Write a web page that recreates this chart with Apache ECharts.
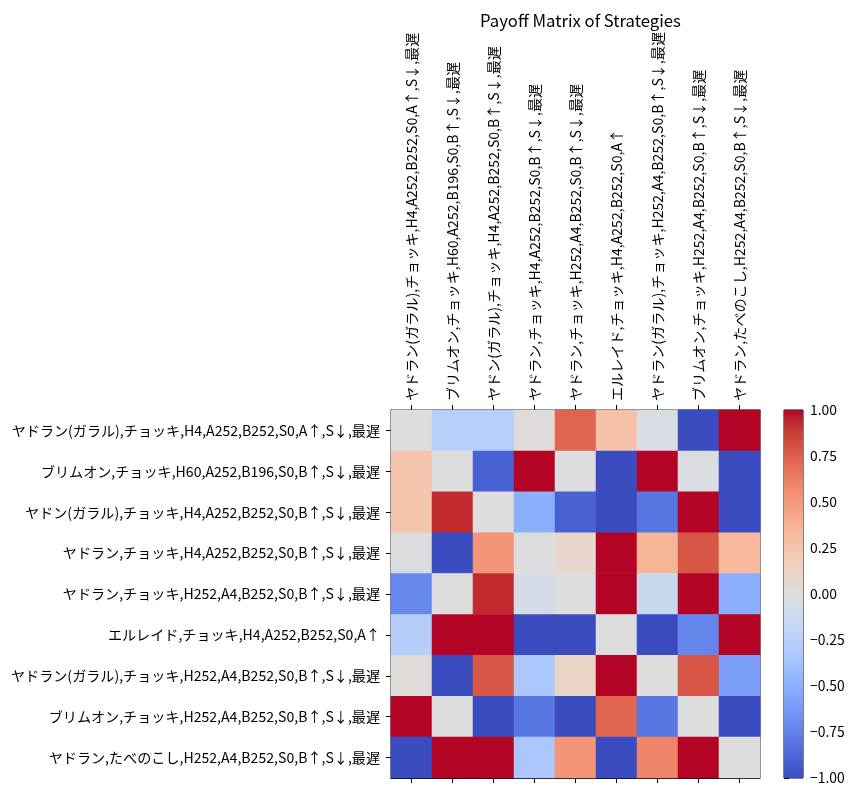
<!DOCTYPE html>
<html>
<head>
<meta charset="utf-8">
<script src="https://cdn.jsdelivr.net/npm/echarts@6/dist/echarts.min.js"></script>
<style>
html,body{margin:0;padding:0;background:#fff;}
#chart{width:861px;height:798px;}
</style>
</head>
<body>
<div id="chart"></div>
<script>
const strategies = [
  'ヤドラン(ガラル),チョッキ,H4,A252,B252,S0,A↑,S↓,最遅',
  'ブリムオン,チョッキ,H60,A252,B196,S0,B↑,S↓,最遅',
  'ヤドン(ガラル),チョッキ,H4,A252,B252,S0,B↑,S↓,最遅',
  'ヤドラン,チョッキ,H4,A252,B252,S0,B↑,S↓,最遅',
  'ヤドラン,チョッキ,H252,A4,B252,S0,B↑,S↓,最遅',
  'エルレイド,チョッキ,H4,A252,B252,S0,A↑',
  'ヤドラン(ガラル),チョッキ,H252,A4,B252,S0,B↑,S↓,最遅',
  'ブリムオン,チョッキ,H252,A4,B252,S0,B↑,S↓,最遅',
  'ヤドラン,たべのこし,H252,A4,B252,S0,B↑,S↓,最遅'
];

const payoffRows = [
  [0, -0.25, -0.25, 0.02, 0.73, 0.27, -0.04, -1, 1],
  [0.25, 0, -0.9, 1, 0, -1, 1, -0.03, -1],
  [0.25, 0.93, 0, -0.5, -0.9, -1, -0.81, 1, -1],
  [-0.02, -1, 0.52, 0, 0.08, 1, 0.35, 0.79, 0.32],
  [-0.72, 0, 0.93, -0.07, 0, 1, -0.14, 1, -0.5],
  [-0.27, 1, 1, -1, -1, 0, -1, -0.73, 1],
  [0.03, -1, 0.79, -0.33, 0.12, 1, 0, 0.79, -0.6],
  [1, 0, -1, -0.81, -1, 0.73, -0.81, 0, -1],
  [-1, 1, 1, -0.33, 0.52, -1, 0.6, 1, 0]
];

const colorbarTicks = [-1, -0.75, -0.5, -0.25, 0, 0.25, 0.5, 0.75, 1];

const coolwarm = [
  '#3b4cc0','#445acc','#4d68d7','#5775e1','#6282ea','#6c8ef1','#779af7','#82a5fb',
  '#8db0fe','#98b9ff','#a3c2ff','#aec9fd','#b8d0f9','#c2d5f4','#ccd9ee','#d5dbe6',
  '#dddddd','#e5d8d1','#ecd3c5','#f1ccb8','#f5c4ac','#f7bb9f','#f7b193','#f7a686',
  '#f49a7b','#f18d6f','#ec7f63','#e57059','#de604d','#d55042','#cb3e38','#c0282f','#b40426'
];

const heatData = [];
payoffRows.forEach((row, r) => row.forEach((v, c) => heatData.push([c, r, v])));

const FONT = '"Noto Sans CJK JP", "Noto Sans", sans-serif';
const FS = 14.1;

const chart = echarts.init(document.getElementById('chart'), null, {renderer: 'canvas'});

const cbStops = coolwarm.map((c, i) => ({offset: i / (coolwarm.length - 1), color: c}));

chart.setOption({
  animation: false,
  backgroundColor: '#ffffff',
  textStyle: {fontFamily: FONT},
  title: {
    text: 'Payoff Matrix of Strategies',
    left: 575.5,
    top: 7,
    textAlign: 'center',
    textStyle: {fontFamily: FONT, fontSize: 16.7, fontWeight: 'normal', color: '#000'}
  },
  grid: [
    {left: 391, top: 410, width: 369, height: 368, show: true, borderColor: '#000', borderWidth: 1, backgroundColor: 'transparent', containLabel: false},
    {left: 784, top: 410, width: 19, height: 368, show: true, borderColor: '#000', borderWidth: 1, backgroundColor: 'transparent', containLabel: false}
  ],
  xAxis: [
    {
      type: 'category', gridIndex: 0, position: 'top', data: strategies,
      axisLine: {show: true, lineStyle: {color: '#000', width: 1}},
      axisTick: {show: true, alignWithLabel: true, interval: 0, length: 5, lineStyle: {color: '#000'}},
      axisLabel: {rotate: -90, margin: 9, fontFamily: FONT, fontSize: FS, color: '#000', interval: 0},
      splitLine: {show: false}
    },
    {
      type: 'category', gridIndex: 0, position: 'bottom', data: strategies,
      axisLine: {show: true, lineStyle: {color: '#000', width: 1}},
      axisTick: {show: true, alignWithLabel: true, interval: 0, length: 5, lineStyle: {color: '#000'}},
      axisLabel: {show: false, interval: 0},
      splitLine: {show: false}
    },
    {
      type: 'value', gridIndex: 1, min: 0, max: 1, show: false
    }
  ],
  yAxis: [
    {
      type: 'category', gridIndex: 0, inverse: true, data: strategies,
      axisLine: {show: true, lineStyle: {color: '#000', width: 1}},
      axisTick: {show: true, alignWithLabel: true, interval: 0, length: 5, lineStyle: {color: '#000'}},
      axisLabel: {margin: 11, fontFamily: FONT, fontSize: FS, color: '#000', interval: 0},
      splitLine: {show: false}
    },
    {
      type: 'value', gridIndex: 1, position: 'right', min: -1, max: 1, interval: 0.25,
      axisLine: {show: false},
      axisTick: {show: true, length: 5, lineStyle: {color: '#000'}},
      axisLabel: {
        margin: 7, fontFamily: FONT, fontSize: 13.9, color: '#000',
        formatter: v => (v < 0 ? '\u2212' : '') + Math.abs(v).toFixed(2)
      },
      splitLine: {show: false}
    }
  ],
  visualMap: {
    type: 'continuous', show: false, min: -1, max: 1, seriesIndex: 0,
    inRange: {color: coolwarm}
  },
  series: [
    {
      type: 'heatmap', xAxisIndex: 0, yAxisIndex: 0, data: heatData,
      itemStyle: {borderWidth: 0},
      emphasis: {disabled: true},
      z: 1
    },
    {
      type: 'custom', xAxisIndex: 2, yAxisIndex: 1,
      data: [[0, colorbarTicks[0], 1, colorbarTicks[colorbarTicks.length - 1]]],
      renderItem: (params, api) => {
        const p0 = api.coord([api.value(0), api.value(1)]);
        const p1 = api.coord([api.value(2), api.value(3)]);
        return {
          type: 'rect',
          shape: {x: p0[0], y: p1[1], width: p1[0] - p0[0], height: p0[1] - p1[1]},
          style: {fill: new echarts.graphic.LinearGradient(0, 1, 0, 0, cbStops)}
        };
      },
      silent: true,
      z: 1
    }
  ]
});
</script>
</body>
</html>
